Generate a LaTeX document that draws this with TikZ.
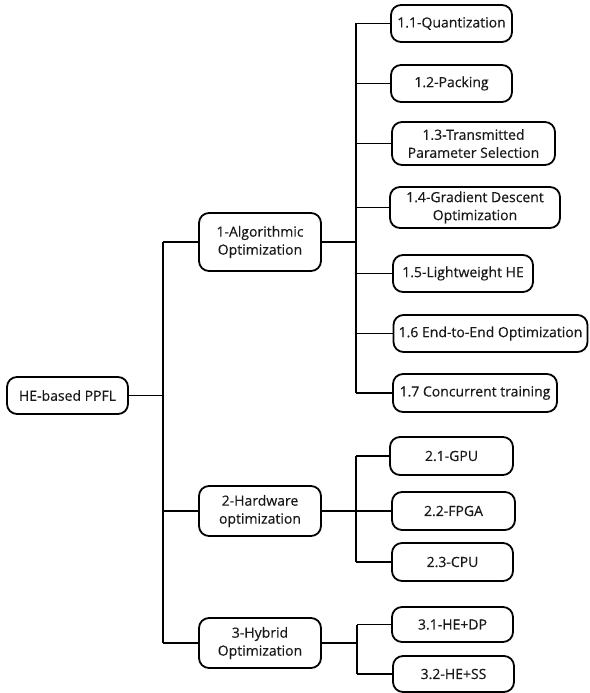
\documentclass[tikz,border=0pt]{standalone}
\usepackage{fontspec}
\setmainfont{Open Sans}[FakeBold=0.35]
\begin{document}
\begin{tikzpicture}[x=1pt,y=-1pt,
  box/.style={draw=black, line width=1.8pt, rounded corners=10pt, fill=white,
    align=center, inner sep=0pt, text=black!90,
    font=\fontsize{14}{18}\selectfont},
  link/.style={draw=black, line width=1.8pt}]
\useasboundingbox (0,0) rectangle (589,693);
% nodes
\node[box, minimum width=121pt, minimum height=37pt] (root) at (67.5,395.5) {HE-based PPFL};
\node[box, minimum width=122pt, minimum height=58pt] (a1) at (260,242) {1-Algorithmic\\Optimization};
\node[box, minimum width=122pt, minimum height=50pt] (a2) at (260,511) {2-Hardware\\optimization};
\node[box, minimum width=122pt, minimum height=50pt] (a3) at (260,643) {3-Hybrid\\Optimization};
\node[box, minimum width=121pt, minimum height=37pt] (b11) at (451.5,23.5) {1.1-Quantization};
\node[box, minimum width=121pt, minimum height=37pt] (b12) at (451.5,83.5) {1.2-Packing};
\node[box, minimum width=163pt, minimum height=43pt] (b13) at (473.5,143.5) {1.3-Transmitted\\Parameter Selection};
\node[box, minimum width=170pt, minimum height=41pt] (b14) at (475,207.5) {1.4-Gradient Descent\\Optimization};
\node[box, minimum width=140pt, minimum height=37pt] (b15) at (463,273.5) {1.5-Lightweight HE};
\node[box, minimum width=194pt, minimum height=37pt] (b16) at (490.5,333.5) {1.6 End-to-End Optimization};
\node[box, minimum width=164pt, minimum height=38pt] (b17) at (475,393) {1.7 Concurrent training};
\node[box, minimum width=123pt, minimum height=38pt] (b21) at (451.5,456) {2.1-GPU};
\node[box, minimum width=123pt, minimum height=38pt] (b22) at (453.5,511) {2.2-FPGA};
\node[box, minimum width=121pt, minimum height=38pt] (b23) at (452.5,562) {2.3-CPU};
\node[box, minimum width=121pt, minimum height=35pt] (b31) at (452.5,624.5) {3.1-HE+DP};
\node[box, minimum width=121pt, minimum height=36pt] (b32) at (453.5,674) {3.2-HE+SS};
% trunk coordinates
\coordinate (t0) at (163,0);
\coordinate (t1) at (356,0);
\coordinate (t2) at (356,0);
\coordinate (t3) at (357,0);
% main trunk
\draw[link] (root.east) -- (root.east -| t0);
\draw[link] (a1.west -| t0) -- (a3.west -| t0);
\foreach \n in {a1,a2,a3} \draw[link] (\n.west -| t0) -- (\n.west);
% branch 1
\draw[link] (a1.east) -- (a1.east -| t1);
\draw[link] (b11.west -| t1) -- (b17.west -| t1);
\foreach \n in {b11,b12,b13,b14,b15,b16,b17} \draw[link] (\n.west -| t1) -- (\n.west);
% branch 2
\draw[link] (a2.east) -- (b22.west);
\draw[link] (b21.west -| t2) -- (b23.west -| t2);
\foreach \n in {b21,b23} \draw[link] (\n.west -| t2) -- (\n.west);
% branch 3
\draw[link] (a3.east) -- (a3.east -| t3);
\draw[link] (b31.west -| t3) -- (b32.west -| t3);
\foreach \n in {b31,b32} \draw[link] (\n.west -| t3) -- (\n.west);
\end{tikzpicture}
\end{document}
